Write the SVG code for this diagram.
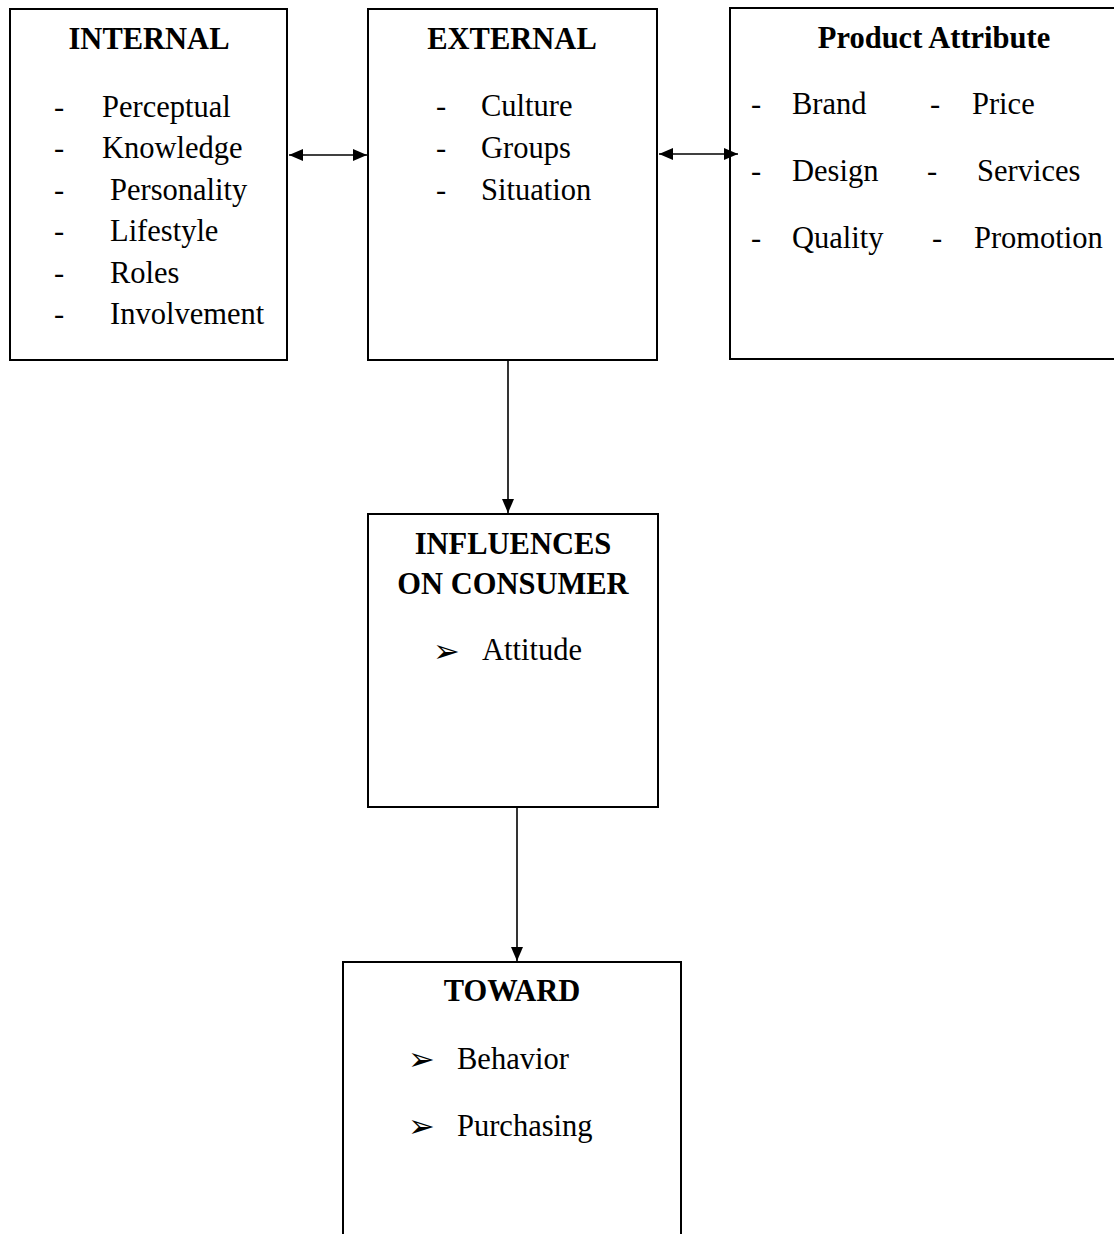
<svg xmlns="http://www.w3.org/2000/svg" width="1114" height="1234" viewBox="0 0 1114 1234">
<style>
.box{fill:#fff;stroke:#000;stroke-width:2}
.t{font-family:"Liberation Serif","Times New Roman",serif;font-size:30.5px;fill:#000}
.h{font-family:"Liberation Serif","Times New Roman",serif;font-size:30.5px;font-weight:bold;fill:#000;text-anchor:middle}
.b{font-family:"DejaVu Sans",sans-serif;font-size:32px;fill:#000}
.c{stroke:#000;stroke-width:1.6;fill:none}
</style>
<defs>
<marker id="ah" markerUnits="userSpaceOnUse" markerWidth="15" markerHeight="13" refX="14" refY="6.5" orient="auto-start-reverse">
<path d="M0,0.5 L14,6.5 L0,12.5 z" fill="#000"/>
</marker>
</defs>
<rect width="1114" height="1234" fill="#fff"/>
<g id="internal">
<rect class="box" x="10" y="9" width="277" height="351"/>
<text class="h" x="149" y="49">INTERNAL</text>
<text class="t" x="54" y="117">-</text><text class="t" x="102" y="117">Perceptual</text>
<text class="t" x="54" y="158">-</text><text class="t" x="102" y="158">Knowledge</text>
<text class="t" x="54" y="200">-</text><text class="t" x="110" y="200">Personality</text>
<text class="t" x="54" y="241">-</text><text class="t" x="110" y="241">Lifestyle</text>
<text class="t" x="54" y="283">-</text><text class="t" x="110" y="283">Roles</text>
<text class="t" x="54" y="324">-</text><text class="t" x="110" y="324">Involvement</text>
</g>
<g id="external">
<rect class="box" x="368" y="9" width="289" height="351"/>
<text class="h" x="512" y="49">EXTERNAL</text>
<text class="t" x="436" y="116">-</text><text class="t" x="481" y="116">Culture</text>
<text class="t" x="436" y="158">-</text><text class="t" x="481" y="158">Groups</text>
<text class="t" x="436" y="200">-</text><text class="t" x="481" y="200">Situation</text>
</g>
<g id="product">
<rect class="box" x="730" y="8" width="400" height="351"/>
<text class="h" x="934" y="48">Product Attribute</text>
<text class="t" x="751" y="114">-</text><text class="t" x="792" y="114">Brand</text>
<text class="t" x="930" y="114">-</text><text class="t" x="972" y="114">Price</text>
<text class="t" x="751" y="181">-</text><text class="t" x="792" y="181">Design</text>
<text class="t" x="927" y="181">-</text><text class="t" x="977" y="181">Services</text>
<text class="t" x="751" y="248">-</text><text class="t" x="792" y="248">Quality</text>
<text class="t" x="932" y="248">-</text><text class="t" x="974" y="248">Promotion</text>
</g>
<g id="influences">
<rect class="box" x="368" y="514" width="290" height="293"/>
<text class="h" x="513" y="554">INFLUENCES</text>
<text class="h" x="513" y="594">ON CONSUMER</text>
<text class="b" x="433" y="662">➢</text>
<text class="t" x="482" y="660">Attitude</text>
</g>
<g id="toward">
<rect class="box" x="343" y="962" width="338" height="300"/>
<text class="h" x="512" y="1001">TOWARD</text>
<text class="b" x="408" y="1070">➢</text>
<text class="t" x="457" y="1069">Behavior</text>
<text class="b" x="408" y="1137">➢</text>
<text class="t" x="457" y="1136">Purchasing</text>
</g>
<g id="connectors">
<line class="c" x1="289" y1="155" x2="367" y2="155" marker-start="url(#ah)" marker-end="url(#ah)"/>
<line class="c" x1="659" y1="154" x2="738" y2="154" marker-start="url(#ah)" marker-end="url(#ah)"/>
<line class="c" x1="508" y1="361" x2="508" y2="513" marker-end="url(#ah)"/>
<line class="c" x1="517" y1="808" x2="517" y2="961" marker-end="url(#ah)"/>
</g>
</svg>
